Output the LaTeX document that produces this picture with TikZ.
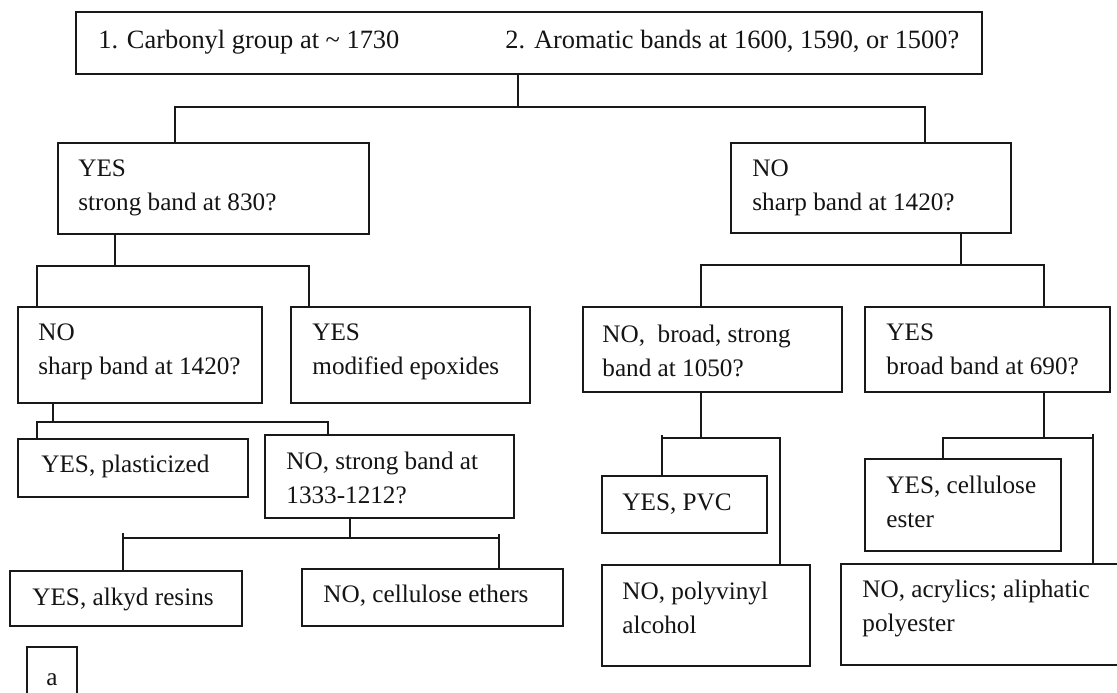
\documentclass[tikz,border=0pt]{standalone}
\usepackage{fontspec}
\setmainfont{Liberation Serif}
\usetikzlibrary{fit}
\newcommand\mytwo[2]{\vtop{\hbox{#1}\hbox{#2}}}
\tikzset{
  box/.style={draw=black!90, line width=1.05pt, inner sep=0pt, rectangle},
  txt/.style={inner sep=0pt, anchor=base west, text=black!92, font=\fontsize{12.6}{17}\selectfont},
  toptxt/.style={inner sep=0pt, anchor=base west, text=black!92, font=\fontsize{13.2}{17}\selectfont},
  conn/.style={draw=black!90, line width=1.05pt}
}
\begin{document}
\begin{tikzpicture}[x=0.5pt, y=-0.5pt]
\useasboundingbox (0,0) rectangle (1117,692);
\fill[white] (0,0) rectangle (1117,692);

% boxes
\node[box, fit={(76,12)(982,74)}] (T) {};
\node[box, fit={(58,143)(369,234)}] (Y1) {};
\node[box, fit={(731,143)(1011,233)}] (N1) {};
\node[box, fit={(18,307)(262,403)}] (N2) {};
\node[box, fit={(291,307)(530,403)}] (Y2) {};
\node[box, fit={(18,439)(248,497)}] (Y3) {};
\node[box, fit={(265,435)(514,518)}] (N3) {};
\node[box, fit={(10,571)(242,626)}] (Y4) {};
\node[box, fit={(302,569)(563,626)}] (N4) {};
\node[box, fit={(27,647)(77,720)}] (A) {};
\node[box, fit={(583,307)(842,392)}] (N5) {};
\node[box, fit={(865,307)(1110,392)}] (Y5) {};
\node[box, fit={(602,476)(767,533)}] (Y6) {};
\node[box, fit={(602,565)(810,666)}] (N6) {};
\node[box, fit={(865,459)(1061,551)}] (Y7) {};
\node[box, fit={(841,564)(1140,665)}] (N7) {};

% texts
\node[toptxt] (tT1) at (98,48) {1. Carbonyl group at \textasciitilde\ 1730};
\node[toptxt] (tT2) at (505,48) {2. Aromatic bands at 1600, 1590, or 1500?};
\node[txt] (tY1) at (78,176) {\mytwo{YES}{strong band at 830?}};
\node[txt] (tN1) at (752,176) {\mytwo{NO}{sharp band at 1420?}};
\node[txt] (tN2) at (38,340) {\mytwo{NO}{sharp band at 1420?}};
\node[txt] (tY2) at (312,340) {\mytwo{YES}{modified epoxides}};
\node[txt] (tY3) at (41,472) {YES, plasticized};
\node[txt] (tN3) at (286,469) {\mytwo{NO, strong band at}{1333-1212?}};
\node[txt] (tY4) at (32,605) {YES, alkyd resins};
\node[txt] (tN4) at (323,602) {NO, cellulose ethers};
\node[txt] (tA) at (46,685) {a};
\node[txt] (tN5) at (602,342) {\mytwo{NO,\ \ broad, strong}{band at 1050?}};
\node[txt] (tY5) at (886,340) {\mytwo{YES}{broad band at 690?}};
\node[txt] (tY6) at (622,510) {YES, PVC};
\node[txt] (tN6) at (622,599) {\mytwo{NO, polyvinyl}{alcohol}};
\node[txt] (tY7) at (886,493) {\mytwo{YES, cellulose}{ester}};
\node[txt] (tN7) at (862,597) {\mytwo{NO, acrylics; aliphatic}{polyester}};

% junctions
\coordinate (sA) at (518,107); \coordinate (sAl) at (175,107); \coordinate (sAr) at (925,107);
\coordinate (sB) at (115,266); \coordinate (sBl) at (37,266); \coordinate (sBr) at (309,266);
\coordinate (sC) at (53,422); \coordinate (sCl) at (37,422); \coordinate (sCr) at (328,422);
\coordinate (sD) at (350,538); \coordinate (sDl) at (123,533); \coordinate (sDr) at (499,534);
\coordinate (sE) at (961,265); \coordinate (sEl) at (701,265); \coordinate (sEr) at (1044,265);
\coordinate (sF) at (701,438); \coordinate (sFl) at (662,435); \coordinate (sFr) at (780,438);
\coordinate (sG) at (1044,438); \coordinate (sGl) at (943,438); \coordinate (sGr) at (1093,434);

% connectors
\draw[conn] (T.south -| sA) -- (sA);
\draw[conn] (Y1.north -| sAl) |- (sAr) -- (N1.north -| sAr);
\draw[conn] (Y1.south -| sB) -- (sB);
\draw[conn] (N2.north -| sBl) |- (sBr) -- (Y2.north -| sBr);
\draw[conn] (N2.south -| sC) -- (sC);
\draw[conn] (Y3.north -| sCl) |- (sCr) -- (N3.north -| sCr);
\draw[conn] (N3.south -| sD) -- (sD);
\draw[conn] (Y4.north -| sDl) -- (sDl);
\draw[conn] (N4.north -| sDr) -- (sDr);
\draw[conn] (sD -| sDl) -- (sD -| sDr);
\draw[conn] (N1.south -| sE) -- (sE);
\draw[conn] (N5.north -| sEl) |- (sEr) -- (Y5.north -| sEr);
\draw[conn] (N5.south -| sF) -- (sF);
\draw[conn] (Y6.north -| sFl) -- (sFl);
\draw[conn] (sF -| sFl) -- (sFr) -- (N6.north -| sFr);
\draw[conn] (Y5.south -| sG) -- (sG);
\draw[conn] (Y7.north -| sGl) |- (sG -| sGr);
\draw[conn] (N7.north -| sGr) -- (sGr);
\end{tikzpicture}
\end{document}
